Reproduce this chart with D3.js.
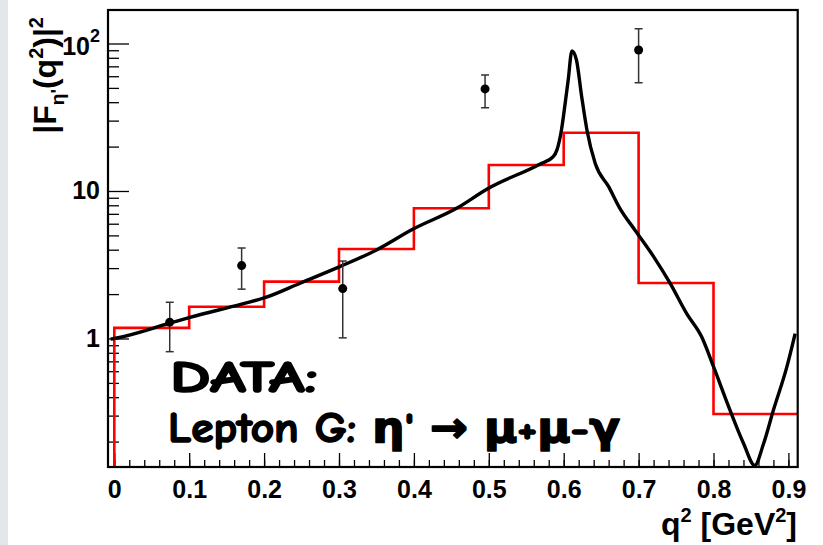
<!DOCTYPE html>
<html>
<head>
<meta charset="utf-8">
<script src="https://cdn.jsdelivr.net/npm/d3@7"></script>
<style>
  body { margin: 0; background: #fff; }
  svg { display: block; }
</style>
</head>
<body>
<svg width="823" height="545"></svg>
<script>
/* global d3 */
// histogram (red): bin edges and contents
const binEdges = [0, 0.1, 0.2, 0.3, 0.4, 0.5, 0.6, 0.7, 0.8, 0.9, 1.0];
const binValues = [1.18, 1.64, 2.43, 4.04, 7.64, 15.0, 24.8, 2.38, 0.308, 0.308];

// data points with errors
const pointQ = [0.074, 0.170, 0.305, 0.495, 0.700];
const pointVal = [1.29, 3.12, 2.18, 49.2, 90.3];
const pointHi = [1.76, 4.11, 3.35, 61.1, 126];
const pointLo = [0.814, 2.16, 1.01, 36.7, 54.2];

// model curve (black)
const curveQ = [-0.005, 0.0, 0.074, 0.101, 0.170, 0.201, 0.248, 0.301, 0.350, 0.399, 0.457, 0.499,
    0.568, 0.586, 0.591, 0.597, 0.602, 0.606, 0.611, 0.617, 0.624, 0.631, 0.642, 0.660,
    0.675, 0.695, 0.720, 0.742, 0.764, 0.784, 0.800, 0.822, 0.840, 0.855, 0.867, 0.880, 0.898, 0.909];
const curveVal = [0.99, 1.0, 1.27, 1.39, 1.71, 1.89, 2.37, 3.07, 3.98, 5.52, 7.63, 10.4,
    15.2, 17.1, 19.0, 25.9, 39.5, 56.6, 89.0, 77.3, 43.6, 25.9, 15.4, 10.7,
    7.63, 5.44, 3.59, 2.37, 1.48, 1.03, 0.644, 0.327, 0.195, 0.138, 0.195, 0.327, 0.644, 1.08];

// axis ticks and labels
const xTickValues = [0, 0.1, 0.2, 0.3, 0.4, 0.5, 0.6, 0.7, 0.8, 0.9];
const xTickLabels = ['0', '0.1', '0.2', '0.3', '0.4', '0.5', '0.6', '0.7', '0.8', '0.9'];
const yTickValues = [1, 10, 100];
const yTickBase = ['1', '10', '10'];
const yTickExp = ['', '', '2'];

function main() {
    const svg = d3.select('svg');
    const left = 108, right = 797.7, top = 10, bottom = 467;

    // light grey strip on the left edge of the canvas
    svg.append('rect').attr('x', 0).attr('y', 0).attr('width', 8).attr('height', 545)
        .attr('fill', '#e4e7ea');

    const x = d3.scaleLinear().domain([-0.0084, 0.9124]).range([left, right]);
    const y = d3.scaleLog().domain([0.1345, 168.7]).range([bottom, top]);

    svg.append('clipPath').attr('id', 'plot')
        .append('rect').attr('x', left).attr('y', top)
        .attr('width', right - left).attr('height', bottom - top);

    const font = 'Liberation Sans, Arial, Helvetica, sans-serif';

    /** x axis: minor and major ticks pointing up */
    const minorX = d3.range(0, 0.92, 0.02).filter(function (d) { return x(d) <= right; });
    svg.append('g').attr('transform', 'translate(0,' + bottom + ')')
        .call(d3.axisBottom(x).tickValues(minorX).tickSize(-7).tickFormat(''))
        .call(function (g) { g.select('.domain').remove(); })
        .selectAll('line').attr('stroke-width', 1.3);
    const gx = svg.append('g').attr('transform', 'translate(0,' + bottom + ')')
        .call(d3.axisBottom(x).tickValues(xTickValues).tickSize(-14).tickPadding(13)
            .tickFormat(function (d, i) { return xTickLabels[i]; }));
    gx.select('.domain').remove();
    gx.selectAll('line').attr('stroke-width', 1.3);
    gx.selectAll('text').attr('font-family', font).attr('font-size', 25)
        .attr('font-weight', 'bold').attr('fill', '#000');

    /** y axis: log ticks */
    const minorY = [];
    [0.1, 1, 10].forEach(function (dec) {
        for (let k = 2; k <= 9; k++) {
            const v = dec * k;
            if (v >= y.domain()[0] && v <= y.domain()[1]) minorY.push(v);
        }
    });
    svg.append('g').attr('transform', 'translate(' + left + ',0)')
        .call(d3.axisLeft(y).tickValues(minorY).tickSize(-11).tickFormat(''))
        .call(function (g) { g.select('.domain').remove(); })
        .selectAll('line').attr('stroke-width', 1.3);
    const gy = svg.append('g').attr('transform', 'translate(' + left + ',0)')
        .call(d3.axisLeft(y).tickValues(yTickValues).tickSize(-21).tickPadding(8)
            .tickFormat(function () { return ''; }));
    gy.select('.domain').remove();
    gy.selectAll('line').attr('stroke-width', 1.3);
    gy.selectAll('text').each(function (d, i) {
        const t = d3.select(this)
            .attr('font-family', font).attr('font-size', 25)
            .attr('font-weight', 'bold').attr('fill', '#000');
        t.append('tspan').text(yTickBase[i]);
        if (yTickExp[i]) {
            t.attr('dy', '0.45em');
            t.append('tspan').attr('font-size', 18).attr('dy', '-0.75em').text(yTickExp[i]);
        }
    });

    const plot = svg.append('g').attr('clip-path', 'url(#plot)');

    /** red histogram */
    const hist = binValues.map(function (v, i) { return [binEdges[i], v]; });
    hist.unshift([binEdges[0], y.domain()[0]]);
    hist.push([binEdges[binEdges.length - 1], binValues[binValues.length - 1]]);
    plot.append('path')
        .attr('d', d3.line().curve(d3.curveStepAfter)
            .x(function (d) { return x(d[0]); })
            .y(function (d) { return y(d[1]); })(hist))
        .attr('fill', 'none').attr('stroke', '#ff0000').attr('stroke-width', 2.6);

    /** black model curve */
    const curve = curveQ.map(function (q, i) { return [q, curveVal[i]]; });
    plot.append('path')
        .attr('d', d3.line().curve(d3.curveMonotoneX)
            .x(function (d) { return x(d[0]); })
            .y(function (d) { return y(d[1]); })(curve))
        .attr('fill', 'none').attr('stroke', '#000').attr('stroke-width', 3.4)
        .attr('stroke-linejoin', 'round');

    /** data points with error bars */
    const pts = plot.selectAll('.pt').data(pointQ).enter().append('g').attr('class', 'pt');
    pts.append('line')
        .attr('x1', function (d) { return x(d); }).attr('x2', function (d) { return x(d); })
        .attr('y1', function (d, i) { return y(pointLo[i]); })
        .attr('y2', function (d, i) { return y(pointHi[i]); })
        .attr('stroke', '#333').attr('stroke-width', 1.5);
    [pointLo, pointHi].forEach(function (arr) {
        pts.append('line')
            .attr('x1', function (d) { return x(d) - 4; }).attr('x2', function (d) { return x(d) + 4; })
            .attr('y1', function (d, i) { return y(arr[i]); })
            .attr('y2', function (d, i) { return y(arr[i]); })
            .attr('stroke', '#333').attr('stroke-width', 1.5);
    });
    pts.append('circle')
        .attr('cx', function (d) { return x(d); })
        .attr('cy', function (d, i) { return y(pointVal[i]); })
        .attr('r', 4.5).attr('fill', '#000');

    /** frame */
    svg.append('rect').attr('x', left).attr('y', top)
        .attr('width', right - left).attr('height', bottom - top)
        .attr('fill', 'none').attr('stroke', '#000').attr('stroke-width', 2.2);

    /** axis titles */
    const xt = svg.append('text').attr('x', 797).attr('y', 535)
        .attr('text-anchor', 'end').attr('font-family', font)
        .attr('font-size', 32).attr('font-weight', 'bold');
    xt.append('tspan').text('q');
    xt.append('tspan').attr('font-size', 20).attr('dy', -13).text('2');
    xt.append('tspan').attr('dy', 13).text(' [GeV');
    xt.append('tspan').attr('font-size', 20).attr('dy', -13).text('2');
    xt.append('tspan').attr('dy', 13).text(']');

    const yt = svg.append('text').attr('transform', 'translate(56,17) rotate(-90)')
        .attr('text-anchor', 'end').attr('font-family', font)
        .attr('font-size', 32).attr('font-weight', 'bold');
    yt.append('tspan').text('|F');
    yt.append('tspan').attr('font-size', 19).attr('dy', 8).text('η\'');
    yt.append('tspan').attr('dy', -8).text('(q');
    yt.append('tspan').attr('font-size', 20).attr('dy', -13).text('2');
    yt.append('tspan').attr('dy', 13).text(')|');
    yt.append('tspan').attr('font-size', 20).attr('dy', -13).text('2');

    /** legend text (comic style, thickened with a stroke) */
    const comic = 'Comic Sans MS, Comic Neue, DejaVu Sans, sans-serif';
    svg.append('text').attr('x', 170).attr('y', 392)
        .attr('font-family', comic).attr('font-size', 45).attr('font-weight', 'bold')
        .attr('stroke', '#000').attr('stroke-width', 1.6).attr('stroke-linejoin', 'round')
        .attr('textLength', 148).attr('lengthAdjust', 'spacingAndGlyphs')
        .text('DATA:');
    svg.append('text').attr('x', 168).attr('y', 442)
        .attr('font-family', comic).attr('font-size', 42).attr('font-weight', 'bold')
        .attr('stroke', '#000').attr('stroke-width', 1.6).attr('stroke-linejoin', 'round')
        .attr('textLength', 452).attr('lengthAdjust', 'spacingAndGlyphs')
        .text('Lepton G: η\' → μ+μ-γ');
}
main();
</script>
</body>
</html>
